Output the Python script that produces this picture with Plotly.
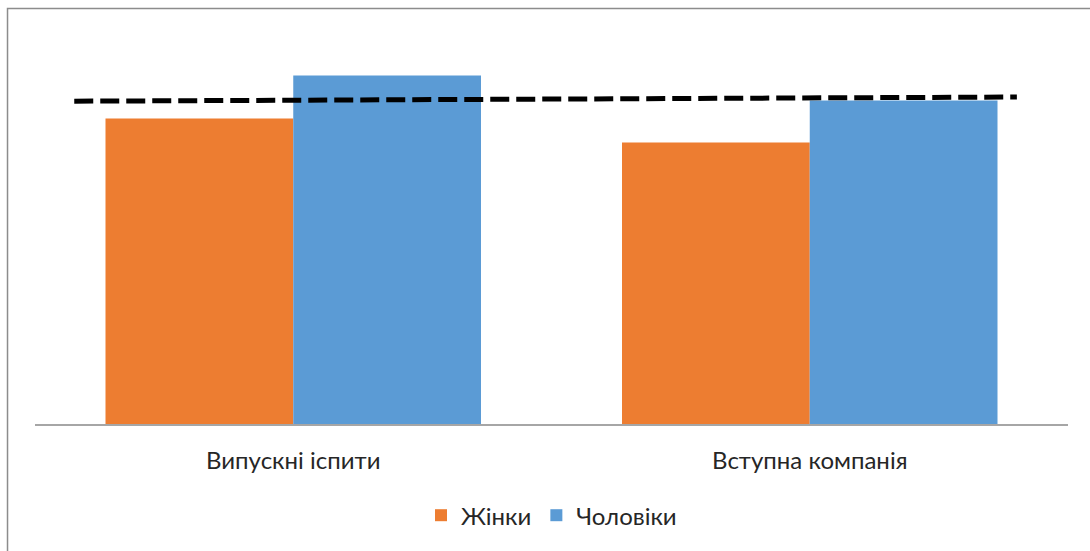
import plotly.graph_objects as go

categories = ["Випускні іспити", "Вступна компанія"]
cat_pos = [0, 1]
women = [76.4, 70.4]
men = [87.1, 80.9]
trend_x = [-0.424, 1.401]
trend_y = [80.7, 81.75]

ORANGE = "#ED7D31"
BLUE = "#5B9BD5"
TEXT = "#262626"
FONT = "Lato"

fig = go.Figure()
fig.add_trace(go.Bar(x=cat_pos, y=women, name="Жінки", marker_color=ORANGE,
                     marker_line_width=0))
fig.add_trace(go.Bar(x=cat_pos, y=men, name="Чоловіки", marker_color=BLUE,
                     marker_line_width=0))
fig.add_trace(go.Scatter(x=trend_x, y=trend_y, mode="lines", showlegend=False,
                         line=dict(color="black", width=5, dash="19px,7px"),
                         hoverinfo="skip"))

fig.update_layout(
    width=1090, height=551,
    margin=dict(l=35, r=22, t=24, b=127),
    paper_bgcolor="white", plot_bgcolor="white",
    barmode="group", bargap=0.273, bargroupgap=0,
    font=dict(family=FONT, size=24, color=TEXT),
    showlegend=True,
    legend=dict(orientation="h", x=0.50, xanchor="center", y=-0.229, yanchor="middle",
                font=dict(family=FONT, size=24, color=TEXT), itemwidth=30,
                bgcolor="rgba(0,0,0,0)"),
    xaxis=dict(range=[-0.5, 1.5], tickmode="array", tickvals=cat_pos, ticktext=categories,
               showgrid=False, zeroline=False, showline=True, linecolor="#a6a6a6",
               linewidth=1.5, ticks="", ticklabelstandoff=14,
               tickfont=dict(family=FONT, size=24, color=TEXT)),
    yaxis=dict(range=[0, 100], visible=False, showgrid=False, zeroline=False),
    shapes=[dict(type="rect", xref="paper", yref="paper",
                 x0=-0.0266, x1=1.2, y0=-0.5, y1=1.0388,
                 line=dict(color="#8c8c8c", width=1.5), fillcolor="rgba(0,0,0,0)",
                 layer="above")],
)

fig.write_html("out.html")
